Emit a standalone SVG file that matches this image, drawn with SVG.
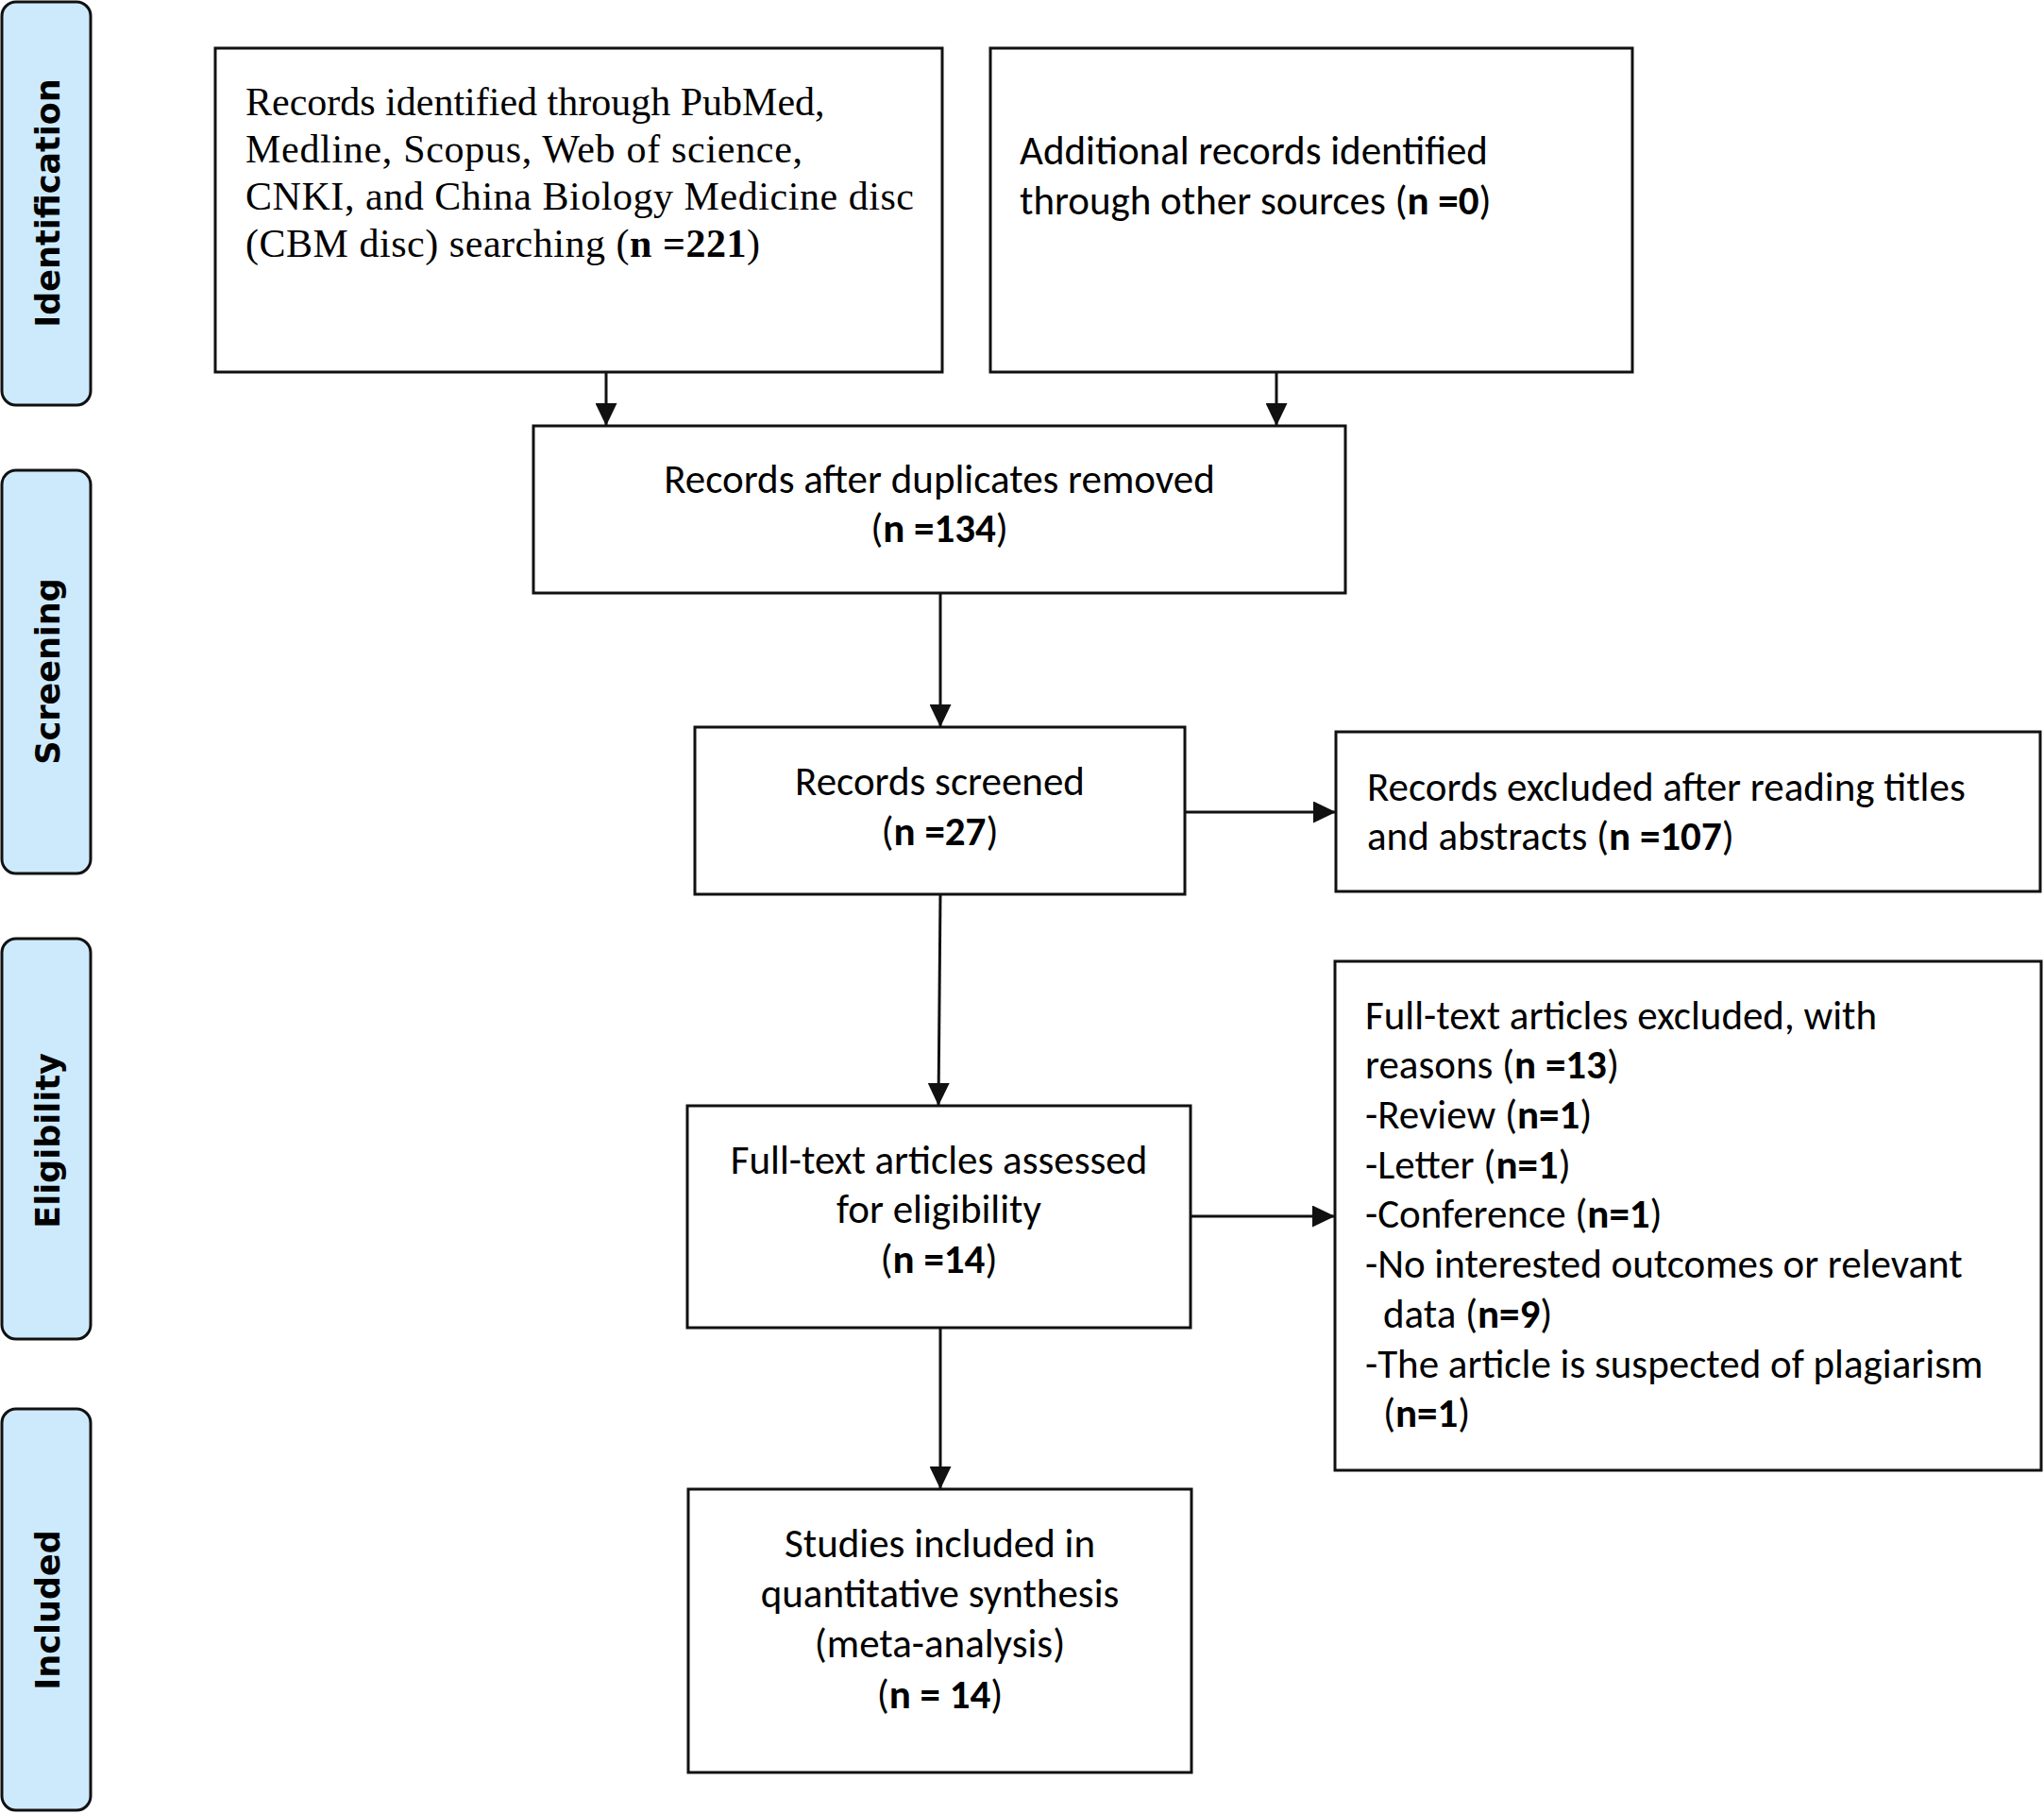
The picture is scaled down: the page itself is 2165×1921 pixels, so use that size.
<svg xmlns="http://www.w3.org/2000/svg" width="2165" height="1921" viewBox="0 0 2165 1921">
<style>
.bg{fill:#ffffff}
.box{fill:#ffffff;stroke:#111111;stroke-width:3}
.phase{fill:#cdeafc;stroke:#111111;stroke-width:3}
.ph{font-family:"DejaVu Sans",Verdana,sans-serif;font-weight:bold;font-size:35px;fill:#000;text-anchor:middle}
.serif{font-family:"Liberation Serif","Times New Roman",serif;font-size:42px;fill:#000}
.cal{font-family:Carlito,Calibri,Lato,"Liberation Sans",sans-serif;font-size:43px;fill:#000}
.mid{text-anchor:middle}
.b{font-weight:bold}
.conn{fill:none;stroke:#111111;stroke-width:3}
</style>
<defs>
<marker id="arr" markerUnits="userSpaceOnUse" markerWidth="24" markerHeight="23" refX="24" refY="11.5" orient="auto">
<path d="M0,0 L24,11.5 L0,23 Z" fill="#111111"/>
</marker>
</defs>
<rect class="bg" x="0" y="0" width="2165" height="1921"/>

<g id="phase-identification">
<rect class="phase" x="2" y="2" width="94" height="427" rx="15" ry="15"/>
<text class="ph" transform="translate(63,215) rotate(-90)">Identification</text>
</g>
<g id="phase-screening">
<rect class="phase" x="2" y="498" width="94" height="427" rx="15" ry="15"/>
<text class="ph" transform="translate(63,711) rotate(-90)">Screening</text>
</g>
<g id="phase-eligibility">
<rect class="phase" x="2" y="994" width="94" height="424" rx="15" ry="15"/>
<text class="ph" transform="translate(63,1208) rotate(-90)">Eligibility</text>
</g>
<g id="phase-included">
<rect class="phase" x="2" y="1492" width="94" height="425" rx="15" ry="15"/>
<text class="ph" transform="translate(63,1705) rotate(-90)">Included</text>
</g>

<g id="records-identified">
<rect class="box" x="228" y="51" width="770" height="343"/>
<text class="serif" x="260" y="122">Records identified through PubMed,</text>
<text class="serif" x="260" y="172" textLength="590" lengthAdjust="spacing">Medline, Scopus, Web of science,</text>
<text class="serif" x="260" y="222" textLength="708" lengthAdjust="spacing">CNKI, and China Biology Medicine disc</text>
<text class="serif" x="260" y="272" textLength="545" lengthAdjust="spacing">(CBM disc) searching (<tspan class="b">n =221</tspan>)</text>
</g>

<g id="additional-records">
<rect class="box" x="1049" y="51" width="680" height="343"/>
<text class="cal" x="1080" y="174">Additional records identified</text>
<text class="cal" x="1080" y="227">through other sources (<tspan class="b">n =0</tspan>)</text>
</g>

<g id="after-duplicates">
<rect class="box" x="565" y="451" width="860" height="177"/>
<text class="cal mid" x="995" y="522">Records after duplicates removed</text>
<text class="cal mid" x="995" y="574">(<tspan class="b">n =134</tspan>)</text>
</g>

<g id="records-screened">
<rect class="box" x="736" y="770" width="519" height="177"/>
<text class="cal mid" x="995.5" y="842">Records screened</text>
<text class="cal mid" x="995.5" y="895">(<tspan class="b">n =27</tspan>)</text>
</g>

<g id="records-excluded">
<rect class="box" x="1415" y="775" width="746" height="169"/>
<text class="cal" x="1448" y="848">Records excluded after reading titles</text>
<text class="cal" x="1448" y="900">and abstracts (<tspan class="b">n =107</tspan>)</text>
</g>

<g id="fulltext-assessed">
<rect class="box" x="728" y="1171" width="533" height="235"/>
<text class="cal mid" x="994.5" y="1243">Full-text articles assessed</text>
<text class="cal mid" x="994.5" y="1295">for eligibility</text>
<text class="cal mid" x="994.5" y="1348">(<tspan class="b">n =14</tspan>)</text>
</g>

<g id="fulltext-excluded">
<rect class="box" x="1414" y="1018" width="748" height="539"/>
<text class="cal" x="1446" y="1090">Full-text articles excluded, with</text>
<text class="cal" x="1446" y="1142">reasons (<tspan class="b">n =13</tspan>)</text>
<text class="cal" x="1446" y="1195">-Review (<tspan class="b">n=1</tspan>)</text>
<text class="cal" x="1446" y="1248">-Letter (<tspan class="b">n=1</tspan>)</text>
<text class="cal" x="1446" y="1300">-Conference (<tspan class="b">n=1</tspan>)</text>
<text class="cal" x="1446" y="1353">-No interested outcomes or relevant</text>
<text class="cal" x="1465" y="1406">data (<tspan class="b">n=9</tspan>)</text>
<text class="cal" x="1446" y="1459">-The article is suspected of plagiarism</text>
<text class="cal" x="1465" y="1511">(<tspan class="b">n=1</tspan>)</text>
</g>

<g id="studies-included">
<rect class="box" x="729" y="1577" width="533" height="300"/>
<text class="cal mid" x="995.5" y="1649">Studies included in</text>
<text class="cal mid" x="995.5" y="1702">quantitative synthesis</text>
<text class="cal mid" x="995.5" y="1755">(meta-analysis)</text>
<text class="cal mid" x="995.5" y="1809">(<tspan class="b">n = 14</tspan>)</text>
</g>

<g id="connectors">
<path class="conn" d="M642,394 V451" marker-end="url(#arr)"/>
<path class="conn" d="M1352,394 V451" marker-end="url(#arr)"/>
<path class="conn" d="M996,628 V770" marker-end="url(#arr)"/>
<path class="conn" d="M1255,860 H1415" marker-end="url(#arr)"/>
<path class="conn" d="M996,947 L994,1171" marker-end="url(#arr)"/>
<path class="conn" d="M1261,1288 H1414" marker-end="url(#arr)"/>
<path class="conn" d="M996,1406 V1577" marker-end="url(#arr)"/>
</g>
</svg>
